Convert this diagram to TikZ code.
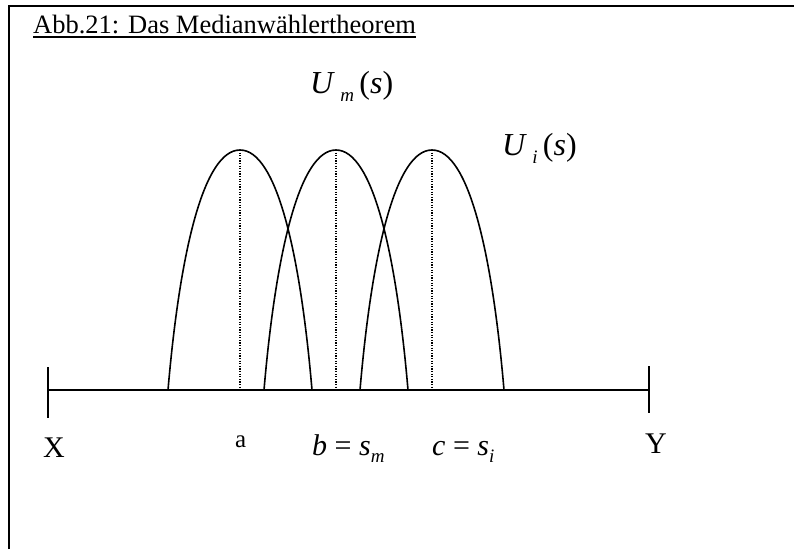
\documentclass[tikz,border=0pt]{standalone}
\usepackage{fontspec}
\setmainfont{Liberation Serif}
\usepackage{tikz}
\newcommand{\lowsub}[1]{\raisebox{-0.25em}{\fontsize{19}{19}\selectfont\textit{#1}}}
\tikzset{
  arch/.style={line width=1.6pt},
  guide/.style={line width=1.2pt, dash pattern=on 1.2pt off 1.4pt},
  axis/.style={line width=1.6pt},
  lbl/.style={inner sep=0pt, anchor=base west}
}

\begin{document}
\begin{tikzpicture}[x=1pt, y=-1pt]
    \useasboundingbox (0,0) rectangle (794,549);

    % Frame
    \draw[line width=2.4pt] (9,549) -- (9,6) -- (794,6);

    % Caption
    \node[lbl, font=\fontsize{26.5}{30}\selectfont] (title) at (33,33) {Abb.21: Das Medianwählertheorem};
    \draw[line width=1.6pt] ([yshift=-4pt]title.base west) -- ([yshift=-4pt]title.base east);

    % Peaks and feet
    \coordinate (pa) at (240,150);
    \coordinate (pb) at (336,150);
    \coordinate (pc) at (432,150);
    \coordinate (fa) at (240,390);
    \coordinate (fb) at (336,390);
    \coordinate (fc) at (432,390);

    % Strategy axis
    \coordinate (xend) at (48,390);
    \coordinate (yend) at (649,390);
    \draw[axis] (xend) -- (yend);
    \draw[axis] (48,367) -- (48,418);
    \draw[axis] (649,366) -- (649,413);

    % Utility arches
    \draw[arch] (168,390) .. controls (180,250) and (204,150) .. (pa)
                          .. controls (276,150) and (300,250) .. (312,390);
    \draw[arch] (264,390) .. controls (276,250) and (300,150) .. (pb)
                          .. controls (372,150) and (396,250) .. (408,390);
    \draw[arch] (360,390) .. controls (372,250) and (396,150) .. (pc)
                          .. controls (468,150) and (492,250) .. (504,390);

    % Ideal points
    \draw[guide] (pa) -- (fa);
    \draw[guide] (pb) -- (fb);
    \draw[guide] (pc) -- (fc);

    % Labels
    \node[lbl, font=\fontsize{32}{36}\selectfont] (um) at (310,93) {\textit{U}\,\lowsub{m}\,(\textit{s})};
    \node[lbl, font=\fontsize{32}{36}\selectfont] (ui) at (502,155) {\textit{U}\,\lowsub{i}\,(\textit{s})};
    \node[lbl, font=\fontsize{30}{34}\selectfont] (xl) at (43,457) {X};
    \node[lbl, font=\fontsize{30}{34}\selectfont] (yl) at (645,453) {Y};
    \node[lbl, font=\fontsize{25}{28}\selectfont] (al) at (235,447) {a};
    \node[lbl, font=\fontsize{30}{34}\selectfont] (bl) at (312,455) {\textit{b} = \textit{s}\lowsub{m}};
    \node[lbl, font=\fontsize{30}{34}\selectfont] (cl) at (432,455) {\textit{c} = \textit{s}\lowsub{i}};
\end{tikzpicture}
\end{document}
